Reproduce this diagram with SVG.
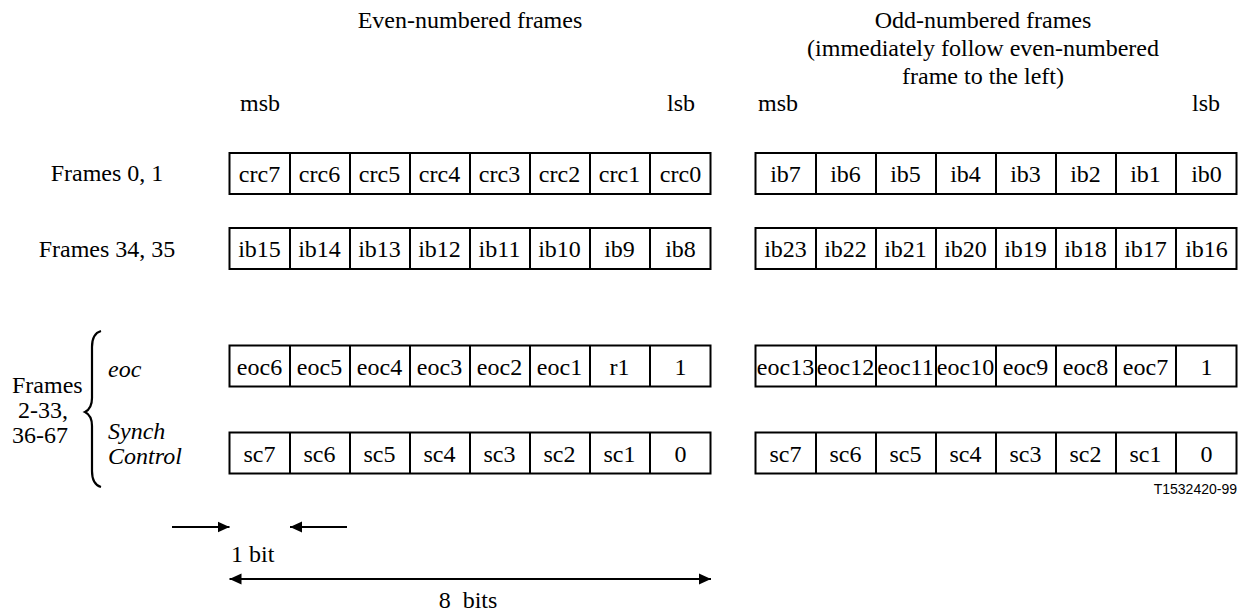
<svg xmlns="http://www.w3.org/2000/svg" width="1239" height="613" viewBox="0 0 1239 613">
<style>
  text { font-family: "Liberation Serif", "Times New Roman", Times, serif; font-size: 24px; fill: #000; }
  .c { text-anchor: middle; }
  .i { font-style: italic; }
  .box { fill: #fff; stroke: #000; stroke-width: 2; }
  .div { stroke: #000; stroke-width: 2; }
  .ln { stroke: #000; stroke-width: 2.2; fill: none; }
  .tag { font-family: "Liberation Sans", Arial, sans-serif; font-size: 14px; text-anchor: end; }
</style>
<defs>
  <marker id="ah" viewBox="0 0 12 12" refX="12" refY="6" markerWidth="12" markerHeight="12" markerUnits="userSpaceOnUse" orient="auto-start-reverse">
    <path d="M0,0.5 L12,6 L0,11.5 Z" fill="#000"/>
  </marker>
  <g id="grid">
    <rect class="box" x="0" y="0" width="481" height="41"/>
    <line class="div" x1="60.5" y1="0" x2="60.5" y2="41"/>
    <line class="div" x1="120.5" y1="0" x2="120.5" y2="41"/>
    <line class="div" x1="180.5" y1="0" x2="180.5" y2="41"/>
    <line class="div" x1="240.5" y1="0" x2="240.5" y2="41"/>
    <line class="div" x1="300.5" y1="0" x2="300.5" y2="41"/>
    <line class="div" x1="360.5" y1="0" x2="360.5" y2="41"/>
    <line class="div" x1="420.5" y1="0" x2="420.5" y2="41"/>
  </g>
</defs>

<g id="headers">
  <text class="c" x="470" y="28">Even-numbered frames</text>
  <text class="c" x="983" y="28">Odd-numbered frames</text>
  <text class="c" x="983" y="56">(immediately follow even-numbered</text>
  <text class="c" x="983" y="84">frame to the left)</text>
  <text x="240" y="111">msb</text>
  <text x="667" y="111">lsb</text>
  <text x="758" y="111">msb</text>
  <text x="1192" y="111">lsb</text>
</g>

<g id="row-labels">
  <text class="c" x="107" y="181">Frames 0, 1</text>
  <text class="c" x="107" y="257">Frames 34, 35</text>
  <text x="12" y="393">Frames</text>
  <text x="18" y="418">2-33,</text>
  <text x="12" y="443">36-67</text>
  <path class="ln" d="M101,331 C94,333 92,339 92,347 L92,398 C92,406 89,410 85,412 C89,414 92,418 92,426 L92,471 C92,479 94,485 101,487" stroke-width="2"/>
  <text class="i" x="108" y="377">eoc</text>
  <text class="i" x="108" y="439">Synch</text>
  <text class="i" x="108" y="464">Control</text>
</g>

<g id="even-row1" transform="translate(229.5,153)">
  <use href="#grid"/>
  <text class="c" x="30" y="29">crc7</text><text class="c" x="90" y="29">crc6</text><text class="c" x="150" y="29">crc5</text><text class="c" x="210" y="29">crc4</text>
  <text class="c" x="270" y="29">crc3</text><text class="c" x="330" y="29">crc2</text><text class="c" x="390" y="29">crc1</text><text class="c" x="451" y="29">crc0</text>
</g>
<g id="odd-row1" transform="translate(755.5,153)">
  <use href="#grid"/>
  <text class="c" x="30" y="29">ib7</text><text class="c" x="90" y="29">ib6</text><text class="c" x="150" y="29">ib5</text><text class="c" x="210" y="29">ib4</text>
  <text class="c" x="270" y="29">ib3</text><text class="c" x="330" y="29">ib2</text><text class="c" x="390" y="29">ib1</text><text class="c" x="451" y="29">ib0</text>
</g>

<g id="even-row2" transform="translate(229.5,228)">
  <use href="#grid"/>
  <text class="c" x="30" y="29">ib15</text><text class="c" x="90" y="29">ib14</text><text class="c" x="150" y="29">ib13</text><text class="c" x="210" y="29">ib12</text>
  <text class="c" x="270" y="29">ib11</text><text class="c" x="330" y="29">ib10</text><text class="c" x="390" y="29">ib9</text><text class="c" x="451" y="29">ib8</text>
</g>
<g id="odd-row2" transform="translate(755.5,228)">
  <use href="#grid"/>
  <text class="c" x="30" y="29">ib23</text><text class="c" x="90" y="29">ib22</text><text class="c" x="150" y="29">ib21</text><text class="c" x="210" y="29">ib20</text>
  <text class="c" x="270" y="29">ib19</text><text class="c" x="330" y="29">ib18</text><text class="c" x="390" y="29">ib17</text><text class="c" x="451" y="29">ib16</text>
</g>

<g id="even-eoc" transform="translate(229.5,345.5)">
  <use href="#grid"/>
  <text class="c" x="30" y="29">eoc6</text><text class="c" x="90" y="29">eoc5</text><text class="c" x="150" y="29">eoc4</text><text class="c" x="210" y="29">eoc3</text>
  <text class="c" x="270" y="29">eoc2</text><text class="c" x="330" y="29">eoc1</text><text class="c" x="390" y="29">r1</text><text class="c" x="451" y="29">1</text>
</g>
<g id="odd-eoc" transform="translate(755.5,345.5)">
  <use href="#grid"/>
  <text class="c" x="30" y="29">eoc13</text><text class="c" x="90" y="29">eoc12</text><text class="c" x="150" y="29">eoc11</text><text class="c" x="210" y="29">eoc10</text>
  <text class="c" x="270" y="29">eoc9</text><text class="c" x="330" y="29">eoc8</text><text class="c" x="390" y="29">eoc7</text><text class="c" x="451" y="29">1</text>
</g>

<g id="even-sc" transform="translate(229.5,432.5)">
  <use href="#grid"/>
  <text class="c" x="30" y="29">sc7</text><text class="c" x="90" y="29">sc6</text><text class="c" x="150" y="29">sc5</text><text class="c" x="210" y="29">sc4</text>
  <text class="c" x="270" y="29">sc3</text><text class="c" x="330" y="29">sc2</text><text class="c" x="390" y="29">sc1</text><text class="c" x="451" y="29">0</text>
</g>
<g id="odd-sc" transform="translate(755.5,432.5)">
  <use href="#grid"/>
  <text class="c" x="30" y="29">sc7</text><text class="c" x="90" y="29">sc6</text><text class="c" x="150" y="29">sc5</text><text class="c" x="210" y="29">sc4</text>
  <text class="c" x="270" y="29">sc3</text><text class="c" x="330" y="29">sc2</text><text class="c" x="390" y="29">sc1</text><text class="c" x="451" y="29">0</text>
</g>

<g id="tag">
  <text class="tag" x="1237" y="494">T1532420-99</text>
</g>

<g id="connectors">
  <line class="ln" x1="172" y1="527" x2="229.5" y2="527" marker-end="url(#ah)"/>
  <line class="ln" x1="347" y1="527" x2="290" y2="527" marker-end="url(#ah)"/>
  <line class="ln" x1="229.5" y1="579" x2="711" y2="579" marker-start="url(#ah)" marker-end="url(#ah)"/>
</g>

<g id="dimension-labels">
  <text x="231" y="562">1 bit</text>
  <text class="c" x="468" y="608" xml:space="preserve">8  bits</text>
</g>
</svg>
